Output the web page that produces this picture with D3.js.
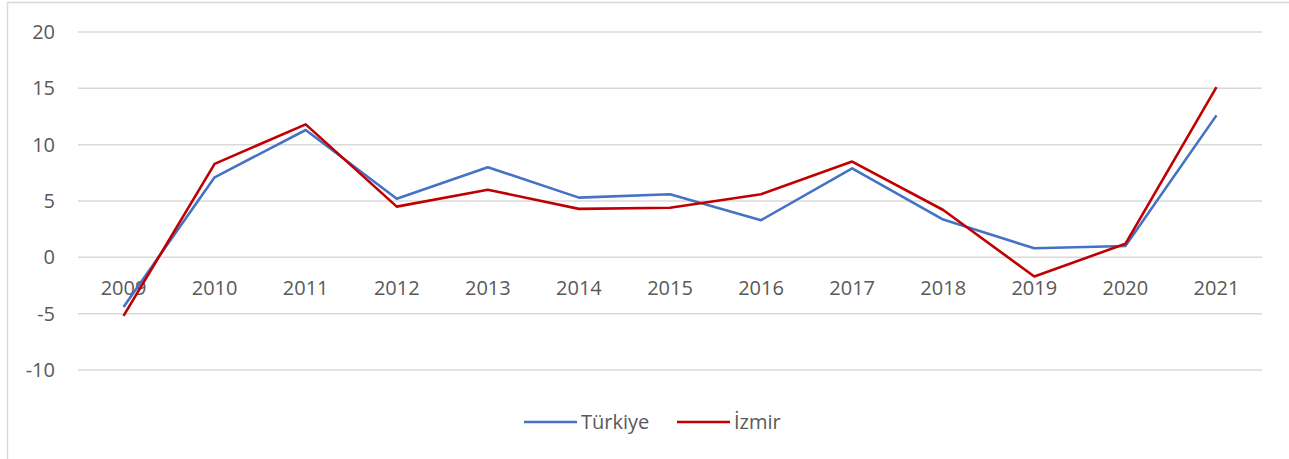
<!DOCTYPE html>
<html>
<head>
<meta charset="utf-8">
<script src="https://cdn.jsdelivr.net/npm/d3@7"></script>
<style>
  body { margin: 0; background: #fff; }
  text { font-family: "Open Sans", "Liberation Sans", sans-serif; }
</style>
</head>
<body>
<svg id="svg"></svg>
<script>
var width = 1289;
var height = 459;

// data
const years = ["2009", "2010", "2011", "2012", "2013", "2014", "2015", "2016", "2017", "2018", "2019", "2020", "2021"];
const turkiye = [-4.4, 7.1, 11.3, 5.2, 8.0, 5.3, 5.6, 3.3, 7.9, 3.35, 0.8, 1.0, 12.6];
const izmir = [-5.2, 8.3, 11.8, 4.5, 6.0, 4.3, 4.4, 5.6, 8.5, 4.2, -1.7, 1.2, 15.1];
const yTicks = [-10, -5, 0, 5, 10, 15, 20];
const seriesNames = ["Türkiye", "İzmir"];
const colors = ["#4472C4", "#C00000"];

var svg = d3.select("#svg")
    .attr("width", width)
    .attr("height", height);

// chart border
svg.append("rect")
    .attr("x", 7.5).attr("y", 2.5)
    .attr("width", width + 10).attr("height", height + 10)
    .attr("fill", "none")
    .attr("stroke", "#D9D9D9")
    .attr("stroke-width", 1.5);

var plotLeft = 78, plotRight = 1262;

var x = d3.scaleBand()
    .domain(years)
    .range([plotLeft, plotRight]);

var y = d3.scaleLinear()
    .domain([-10, 20])
    .range([370, 32]);

// gridlines
svg.append("g")
    .selectAll("line")
    .data(yTicks)
    .join("line")
      .attr("x1", plotLeft)
      .attr("x2", plotRight)
      .attr("y1", d => y(d))
      .attr("y2", d => y(d))
      .attr("stroke", "#D9D9D9")
      .attr("stroke-width", 1.5);

// y labels
svg.append("g")
    .selectAll("text")
    .data(yTicks)
    .join("text")
      .attr("x", 55)
      .attr("y", d => y(d))
      .attr("dy", "0.35em")
      .attr("text-anchor", "end")
      .attr("font-size", 20)
      .attr("fill", "#595959")
      .text(d => d);

// x labels sit under the zero line
svg.append("g")
    .selectAll("text")
    .data(years)
    .join("text")
      .attr("x", d => x(d) + x.bandwidth() / 2)
      .attr("y", y(0) + 31)
      .attr("dy", "0.35em")
      .attr("text-anchor", "middle")
      .attr("font-size", 20)
      .attr("fill", "#595959")
      .text(d => d);

var line = d3.line()
    .x((d, i) => x(years[i]) + x.bandwidth() / 2)
    .y(d => y(d));

svg.append("g")
    .selectAll("path")
    .data([turkiye, izmir])
    .join("path")
      .attr("d", d => line(d))
      .attr("fill", "none")
      .attr("stroke", (d, i) => colors[i])
      .attr("stroke-width", 2.6)
      .attr("stroke-linejoin", "round");

// legend
var legend = svg.append("g")
    .selectAll("g")
    .data(seriesNames)
    .join("g")
      .attr("transform", (d, i) => "translate(" + (524 + i * 153) + ",422)");

legend.append("line")
    .attr("x1", 0).attr("x2", 53)
    .attr("stroke", (d, i) => colors[i])
    .attr("stroke-width", 2.6);

legend.append("text")
    .attr("x", 57)
    .attr("dy", "0.35em")
    .attr("font-size", 20)
    .attr("fill", "#595959")
    .text(d => d);
</script>
</body>
</html>
